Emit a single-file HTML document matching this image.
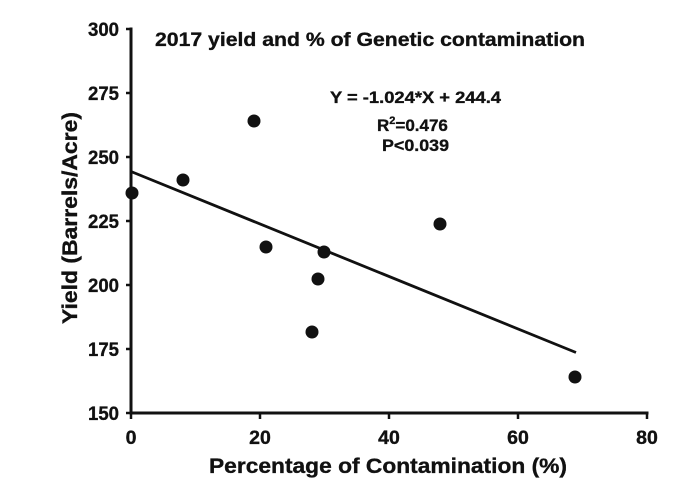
<!DOCTYPE html>
<html>
<head>
<meta charset="utf-8">
<style>
  html, body { margin: 0; padding: 0; background: #ffffff; }
  body { width: 698px; height: 495px; overflow: hidden; }
  svg { display: block; }
  text { font-family: "Liberation Sans", Arial, sans-serif; font-weight: bold; fill: #111; stroke: #111; stroke-width: 0.35; }
</style>
</head>
<body>
<svg width="698" height="495" viewBox="0 0 698 495" xmlns="http://www.w3.org/2000/svg">
  <rect width="698" height="495" fill="#ffffff"/>

  <!-- Axes -->
  <g stroke="#111" stroke-width="3" fill="none" stroke-linecap="square">
    <line x1="131" y1="29" x2="131" y2="413"/>
    <line x1="131" y1="413" x2="647" y2="413"/>
  </g>
  <!-- Y ticks -->
  <g stroke="#111" stroke-width="2.5">
    <line x1="126" y1="29" x2="131" y2="29"/>
    <line x1="126" y1="93" x2="131" y2="93"/>
    <line x1="126" y1="157" x2="131" y2="157"/>
    <line x1="126" y1="221" x2="131" y2="221"/>
    <line x1="126" y1="285" x2="131" y2="285"/>
    <line x1="126" y1="349" x2="131" y2="349"/>
    <line x1="126" y1="413" x2="131" y2="413"/>
  </g>
  <!-- X ticks -->
  <g stroke="#111" stroke-width="2.5">
    <line x1="131" y1="413" x2="131" y2="419"/>
    <line x1="260" y1="413" x2="260" y2="419"/>
    <line x1="389" y1="413" x2="389" y2="419"/>
    <line x1="518" y1="413" x2="518" y2="419"/>
    <line x1="647" y1="413" x2="647" y2="419"/>
  </g>

  <!-- Y tick labels -->
  <g font-size="19.5" text-anchor="end">
    <text x="119" y="36" textLength="31" lengthAdjust="spacingAndGlyphs">300</text>
    <text x="119" y="100" textLength="31" lengthAdjust="spacingAndGlyphs">275</text>
    <text x="119" y="164" textLength="31" lengthAdjust="spacingAndGlyphs">250</text>
    <text x="119" y="228" textLength="31" lengthAdjust="spacingAndGlyphs">225</text>
    <text x="119" y="292" textLength="31" lengthAdjust="spacingAndGlyphs">200</text>
    <text x="119" y="356" textLength="31" lengthAdjust="spacingAndGlyphs">175</text>
    <text x="119" y="420" textLength="31" lengthAdjust="spacingAndGlyphs">150</text>
  </g>

  <!-- X tick labels -->
  <g font-size="19.5" text-anchor="middle">
    <text x="131" y="444">0</text>
    <text x="260" y="444">20</text>
    <text x="389" y="444">40</text>
    <text x="518" y="444">60</text>
    <text x="647" y="444">80</text>
  </g>

  <!-- Axis titles -->
  <text x="209" y="473" font-size="21" textLength="358" lengthAdjust="spacingAndGlyphs">Percentage of Contamination (%)</text>
  <text transform="translate(77,324) rotate(-90)" x="0" y="0" font-size="21" textLength="212" lengthAdjust="spacingAndGlyphs">Yield (Barrels/Acre)</text>

  <!-- Chart title -->
  <text x="155" y="46" font-size="19.5" textLength="430" lengthAdjust="spacingAndGlyphs">2017 yield and % of Genetic contamination</text>

  <!-- Equation annotation -->
  <text x="330" y="103" font-size="17" textLength="171" lengthAdjust="spacingAndGlyphs">Y = -1.024*X + 244.4</text>
  <text x="377" y="131" font-size="17">R<tspan font-size="11" dy="-7">2</tspan><tspan dy="7">=0.476</tspan></text>
  <text x="382" y="151" font-size="17" textLength="67" lengthAdjust="spacingAndGlyphs">P&lt;0.039</text>

  <!-- Regression line -->
  <line x1="131" y1="171.5" x2="576" y2="352.5" stroke="#111" stroke-width="2.8"/>

  <!-- Data points -->
  <g fill="#111">
    <circle cx="132" cy="193" r="6.5"/>
    <circle cx="183" cy="180" r="6.5"/>
    <circle cx="254" cy="121" r="6.5"/>
    <circle cx="266" cy="247" r="6.5"/>
    <circle cx="324" cy="252" r="6.5"/>
    <circle cx="318" cy="279" r="6.5"/>
    <circle cx="312" cy="332" r="6.5"/>
    <circle cx="440" cy="224" r="6.5"/>
    <circle cx="575" cy="377" r="6.5"/>
  </g>
</svg>
</body>
</html>
